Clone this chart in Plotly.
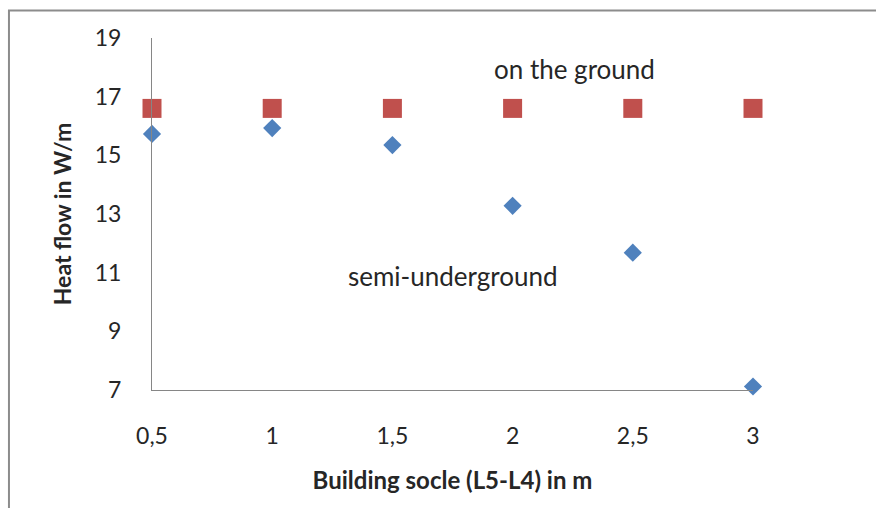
import plotly.graph_objects as go

# Building socle height (L5-L4) in m
socle = [0.5, 1.0, 1.5, 2.0, 2.5, 3.0]
socle_labels = ["0,5", "1", "1,5", "2", "2,5", "3"]

# Heat flow in W/m
semi_underground = [15.73, 15.93, 15.35, 13.28, 11.68, 7.12]
on_the_ground = [16.6, 16.6, 16.6, 16.6, 16.6, 16.6]

y_ticks = [7, 9, 11, 13, 15, 17, 19]

FONT = "Lato"
TEXT = "#262626"
AXIS = "#868686"

fig = go.Figure()
fig.add_trace(go.Scatter(
    x=socle, y=semi_underground, mode="markers", name="semi-underground",
    marker=dict(symbol="diamond", size=14, color="#4F81BD"),
    cliponaxis=False,
))
fig.add_trace(go.Scatter(
    x=socle, y=on_the_ground, mode="markers", name="on the ground",
    marker=dict(symbol="square", size=19, color="#C0504D"),
    cliponaxis=False,
))

fig.add_annotation(x=2.258, y=17.94, text="on the ground", showarrow=False,
                   font=dict(family=FONT, size=26, color=TEXT))
fig.add_annotation(x=1.75, y=10.89, text="semi-underground", showarrow=False,
                   font=dict(family=FONT, size=26, color=TEXT))

# outer chart frame (only left and top edges fall inside the page)
fig.add_shape(type="rect", xref="paper", yref="paper",
              x0=-0.238, x1=1.3, y0=-0.4, y1=1.078,
              line=dict(color="#8C8C8C", width=2), layer="below")

fig.update_layout(
    width=876, height=508,
    margin=dict(l=152, r=123, t=38, b=118),
    paper_bgcolor="white", plot_bgcolor="white",
    showlegend=False,
    font=dict(family=FONT, size=23, color=TEXT),
    xaxis=dict(
        range=[0.5, 3], tickvals=socle, ticktext=socle_labels,
        showline=True, linecolor=AXIS, linewidth=1,
        showgrid=False, zeroline=False, ticks="",
        ticklabelstandoff=25,
        title=dict(text="<b>Building socle (L5-L4) in m</b>", standoff=24,
                   font=dict(family=FONT, size=24, color=TEXT)),
    ),
    yaxis=dict(
        range=[7, 19], tickvals=y_ticks,
        showline=True, linecolor=AXIS, linewidth=1,
        showgrid=False, zeroline=False, ticks="",
        ticklabelstandoff=25,
        title=dict(text="<b>Heat flow in W/m</b>", standoff=16,
                   font=dict(family=FONT, size=23, color=TEXT)),
    ),
)

fig.write_html("out.html")
